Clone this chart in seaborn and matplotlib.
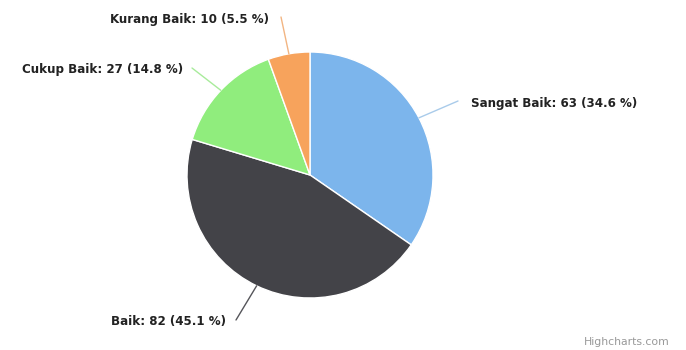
import numpy as np
import matplotlib.pyplot as plt
import seaborn as sns

# data
categories = ['Sangat Baik', 'Baik', 'Cukup Baik', 'Kurang Baik']
counts = [63, 82, 27, 10]
colors = ['#7cb5ec', '#434348', '#90ed7d', '#f7a35c']

sns.set_style('white')
plt.rcParams['font.family'] = ['DejaVu Sans']

W, H = 686, 350
fig = plt.figure(figsize=(W / 100, H / 100), dpi=100)
ax = fig.add_axes([0, 0, 1, 1])

cx, cy, r = 310, H - 175, 123
wedges, _ = ax.pie(counts, colors=colors, startangle=90, counterclock=False,
                   center=(cx, cy), radius=r, frame=True,
                   wedgeprops=dict(edgecolor='white', linewidth=1))
ax.set_xlim(0, W)
ax.set_ylim(0, H)
ax.set_aspect('equal')
ax.axis('off')

total = sum(counts)
# label anchor (px from top-left), alignment, connector elbow
label_pos = {
    'Sangat Baik': (471, 103, 'left', (458, 101)),
    'Baik': (226, 322, 'right', (236, 320)),
    'Cukup Baik': (183, 70, 'right', (192, 68)),
    'Kurang Baik': (269, 20, 'right', (281, 17)),
}
line_colors = {'Sangat Baik': '#a9cbea', 'Baik': '#55555a',
               'Cukup Baik': '#a8eb9b', 'Kurang Baik': '#f2b582'}

for w, cat, n in zip(wedges, categories, counts):
    ang = np.deg2rad((w.theta1 + w.theta2) / 2)
    ex, ey = cx + r * np.cos(ang), cy + r * np.sin(ang)
    tx, ty, ha, (bx, by) = label_pos[cat]
    ax.plot([ex, bx], [ey, H - by], color=line_colors[cat], lw=1)
    pct = n / total * 100
    ax.text(tx, H - ty, f'{cat}: {n} ({pct:.1f} %)', ha=ha, va='center',
            fontsize=8.6, fontweight='bold', color='#222222')

ax.text(670, H - 342, 'Highcharts.com', ha='right', va='center',
        fontsize=7.8, color='#999999')

fig.savefig('out.png', dpi=100)
